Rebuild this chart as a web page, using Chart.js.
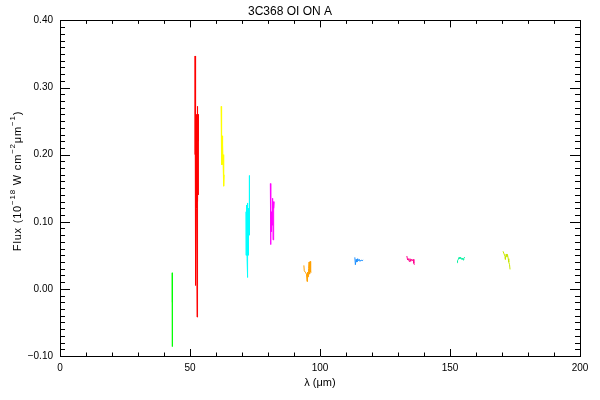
<!DOCTYPE html>
<html>
<head>
<meta charset="utf-8">
<script src="https://cdn.jsdelivr.net/npm/chart.js@4.4.1/dist/chart.umd.min.js"></script>
<style>
  body { margin: 0; background: #fff; }
  canvas { display: block; }
</style>
</head>
<body>
<canvas id="spec" width="600" height="400"></canvas>
<script>
// tick values
const xTicks = [0, 50, 100, 150, 200];
const yTicks = [-0.10, 0.00, 0.10, 0.20, 0.30, 0.40];

// line segments (wavelength in um, flux)
const greenLam = [43.17, 43.2, 43.23];
const greenFlux = [0.024, -0.086, -0.02];

const redLam = [51.9, 51.95, 52.0, 52.04, 52.08, 52.12, 52.16, 52.2, 52.24, 52.28, 52.32, 52.36, 52.4, 52.44, 52.48, 52.52, 52.56, 52.6, 52.64, 52.68, 52.72, 52.76, 52.8, 52.84, 52.88, 52.92, 52.96, 53.0, 53.04, 53.08, 53.12, 53.16, 53.2, 53.25];
const redFlux = [0.20, 0.347, 0.15, 0.24, 0.15, 0.23, 0.15, 0.005, 0.24, 0.16, 0.25, 0.15, 0.24, 0.12, 0.26, 0.14, 0.25, 0.13, 0.26, 0.12, -0.042, 0.25, 0.13, 0.27, 0.115, 0.26, 0.12, 0.272, 0.13, 0.26, 0.14, 0.25, 0.15, 0.22];

const yellowLam = [61.95, 62.0, 62.05, 62.1, 62.15, 62.2, 62.25, 62.3, 62.35, 62.4, 62.45, 62.5, 62.55, 62.6, 62.65, 62.75, 62.85, 62.95, 63.05, 63.15];
const yellowFlux = [0.272, 0.205, 0.238, 0.20, 0.235, 0.19, 0.232, 0.185, 0.228, 0.19, 0.225, 0.185, 0.22, 0.19, 0.215, 0.185, 0.20, 0.19, 0.153, 0.17];

const cyanLam = [71.5, 71.55, 71.6, 71.65, 71.7, 71.75, 71.8, 71.85, 71.9, 71.95, 72.0, 72.05, 72.1, 72.15, 72.2, 72.25, 72.3, 72.35, 72.4, 72.45, 72.5, 72.6, 72.7, 72.8, 72.9];
const cyanFlux = [0.115, 0.05, 0.12, 0.055, 0.12, 0.06, 0.125, 0.05, 0.125, 0.045, 0.128, 0.04, 0.128, 0.03, 0.017, 0.12, 0.05, 0.12, 0.05, 0.11, 0.07, 0.11, 0.09, 0.169, 0.08];

const magentaLam = [80.9, 80.95, 81.05, 81.1, 81.15, 81.2, 81.25, 81.3, 81.35, 81.4, 81.45, 81.55, 81.7, 81.85, 81.95, 82.1, 82.25, 82.35];
const magentaFlux = [0.157, 0.066, 0.12, 0.088, 0.118, 0.086, 0.115, 0.085, 0.112, 0.09, 0.11, 0.095, 0.10, 0.135, 0.073, 0.13, 0.12, 0.13];

const orangeLam = [93.8, 93.95, 94.2, 94.5, 94.8, 95.0, 95.2, 95.4, 95.6, 95.8, 96.0, 96.2, 96.4, 96.6];
const orangeFlux = [0.035, 0.027, 0.027, 0.024, 0.022, 0.011, 0.025, 0.018, 0.030, 0.040, 0.022, 0.041, 0.025, 0.024];

const blueLam = [113.4, 113.6, 113.9, 114.2, 114.5, 114.8, 115.1, 115.4, 115.8, 116.2, 116.6];
const blueFlux = [0.047, 0.036, 0.044, 0.040, 0.045, 0.042, 0.044, 0.041, 0.043, 0.042, 0.043];

const pinkLam = [133.4, 133.7, 134.0, 134.3, 134.6, 134.9, 135.2, 135.5, 135.8, 136.1, 136.3];
const pinkFlux = [0.049, 0.043, 0.045, 0.041, 0.045, 0.041, 0.044, 0.042, 0.044, 0.038, 0.036];

const tealLam = [152.7, 152.9, 153.2, 153.5, 153.8, 154.1, 154.4, 154.7, 155.0, 155.3, 155.7];
const tealFlux = [0.039, 0.042, 0.044, 0.047, 0.045, 0.047, 0.044, 0.046, 0.043, 0.046, 0.047];

const limeLam = [170.4, 170.8, 171.2, 171.3, 171.6, 171.9, 172.1, 172.4, 172.6, 172.9, 173.1];
const limeFlux = [0.056, 0.052, 0.048, 0.044, 0.052, 0.048, 0.051, 0.045, 0.040, 0.036, 0.029];

const segments = [
  { lam: greenLam, flux: greenFlux, color: '#00ff00' },
  { lam: redLam, flux: redFlux, color: '#ff0000' },
  { lam: yellowLam, flux: yellowFlux, color: '#ffff00' },
  { lam: cyanLam, flux: cyanFlux, color: '#00ffff' },
  { lam: magentaLam, flux: magentaFlux, color: '#ff00ff' },
  { lam: orangeLam, flux: orangeFlux, color: '#ffa000' },
  { lam: blueLam, flux: blueFlux, color: '#1e90ff' },
  { lam: pinkLam, flux: pinkFlux, color: '#ff0090' },
  { lam: tealLam, flux: tealFlux, color: '#00f0a0' },
  { lam: limeLam, flux: limeFlux, color: '#c8e600' }
];

// y title pieces: [text, superscript?]
const yTitleParts = [['Flux (10', false], ['\u221218', true], [' W cm', false], ['\u22122', true], ['\u03BCm', false], ['\u22121', true], [')', false]];

const FONT = 'Liberation Sans, Arial, sans-serif';

// IDL style inward ticks on all four sides + y title with superscripts
const idlTicks = {
  id: 'idlTicks',
  afterDraw(chart) {
    const { ctx, chartArea: a } = chart;
    const xs = chart.scales.x, ys = chart.scales.y;
    ctx.save();
    ctx.strokeStyle = '#000';
    ctx.lineWidth = 1;
    ctx.beginPath();
    for (let v = 0; v <= 200; v += 10) {
      const px = Math.round(xs.getPixelForValue(v)) + 0.5;
      const len = v % 50 === 0 ? 7 : 3.5;
      ctx.moveTo(px, a.bottom); ctx.lineTo(px, a.bottom - len);
      ctx.moveTo(px, a.top); ctx.lineTo(px, a.top + len);
    }
    for (let i = -10; i <= 40; i++) {
      const py = Math.round(ys.getPixelForValue(i / 100)) + 0.5;
      const len = i % 10 === 0 ? 10 : 5;
      ctx.moveTo(a.left, py); ctx.lineTo(a.left + len, py);
      ctx.moveTo(a.right, py); ctx.lineTo(a.right - len, py);
    }
    ctx.stroke();

    // rotated y title
    const base = '11px ' + FONT, sup = '8px ' + FONT;
    let w = 0;
    yTitleParts.forEach(([t, s]) => { ctx.font = s ? sup : base; w += ctx.measureText(t).width + t.length * 0.8; });
    ctx.translate(18, 181);
    ctx.rotate(-Math.PI / 2);
    ctx.fillStyle = '#000';
    ctx.textBaseline = 'middle';
    ctx.textAlign = 'left';
    ctx.letterSpacing = '0.8px';
    let x = -w / 2;
    yTitleParts.forEach(([t, s]) => {
      ctx.font = s ? sup : base;
      ctx.fillText(t, x, s ? -5 : 0);
      x += ctx.measureText(t).width;
    });
    ctx.restore();
  }
};

const ctx = document.getElementById('spec').getContext('2d');
new Chart(ctx, {
  type: 'scatter',
  data: {
    datasets: segments.map(s => ({
      data: s.lam.map((l, i) => ({ x: l, y: s.flux[i] })),
      showLine: true,
      borderColor: s.color,
      borderWidth: 1,
      pointRadius: 0,
      tension: 0
    }))
  },
  options: {
    responsive: false,
    animation: false,
    devicePixelRatio: 1,
    layout: { padding: { top: 0, right: 20, bottom: 0, left: 0 } },
    plugins: {
      legend: { display: false },
      tooltip: { enabled: false },
      title: {
        display: true,
        text: '3C368 OI ON A',
        color: '#000',
        font: { family: FONT, size: 12, weight: 'normal' },
        padding: { top: 4, bottom: 2 }
      }
    },
    scales: {
      x: {
        type: 'linear',
        position: 'bottom',
        min: 0, max: 200,
        afterBuildTicks: s => { s.ticks = xTicks.map(v => ({ value: v })); },
        afterFit: s => { s.height = 44; },
        grid: { display: false, drawTicks: false },
        border: { display: true, color: '#000', width: 1 },
        ticks: {
          color: '#000', padding: 6,
          font: { family: FONT, size: 10 },
          maxRotation: 0,
          callback: v => String(v)
        },
        title: {
          display: true,
          text: 'λ (μm)',
          color: '#000',
          font: { family: FONT, size: 11 },
          padding: { top: 0, bottom: 10 }
        }
      },
      x2: {
        type: 'linear',
        position: 'top',
        min: 0, max: 200,
        afterFit: s => { s.height = 0; },
        grid: { display: false, drawTicks: false },
        border: { display: true, color: '#000', width: 1 },
        ticks: { display: false }
      },
      y: {
        type: 'linear',
        position: 'left',
        min: -0.1, max: 0.4,
        afterBuildTicks: s => { s.ticks = yTicks.map(v => ({ value: v })); },
        afterFit: s => { s.width = 60; },
        grid: { display: false, drawTicks: false },
        border: { display: true, color: '#000', width: 1 },
        ticks: {
          color: '#000', padding: 7,
          font: { family: FONT, size: 10 },
          callback: v => (v < 0 ? '\u2212' : '') + Math.abs(v).toFixed(2)
        }
      },
      y2: {
        type: 'linear',
        position: 'right',
        min: -0.1, max: 0.4,
        afterFit: s => { s.width = 0; },
        grid: { display: false, drawTicks: false },
        border: { display: true, color: '#000', width: 1 },
        ticks: { display: false }
      }
    }
  },
  plugins: [idlTicks]
});
</script>
</body>
</html>
